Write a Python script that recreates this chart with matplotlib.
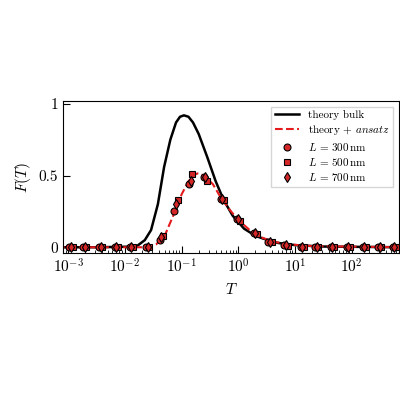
import matplotlib
matplotlib.use("Agg")
import matplotlib.pyplot as plt
import numpy as np

plt.rcParams.update({"font.family": "serif", "font.serif": ["cmr10", "DejaVu Serif"],
                     "mathtext.fontset": "cm", "axes.formatter.use_mathtext": True,
                     "font.size": 11, "axes.unicode_minus": False})

bulk_logT = [-3.2, -2.5, -1.8, -1.65, -1.54, -1.42, -1.31, -1.2, -1.1, -1.03, -0.96, -0.88, -0.8, -0.7, -0.55, -0.4,
             -0.26, -0.1, 0.1, 0.3, 0.44, 0.7, 1.0, 1.5, 2.9]
bulk_F = [0, 0, 0.005, 0.05, 0.12, 0.3, 0.56, 0.75, 0.87, 0.91, 0.92, 0.91, 0.87, 0.79, 0.63, 0.46,
          0.33, 0.22, 0.13, 0.08, 0.06, 0.03, 0.015, 0.005, 0]
ans_logT = [-3.2, -1.6, -1.45, -1.3, -1.15, -1.0, -0.88, -0.78, -0.72, -0.6, -0.45, -0.3, -0.15, 0, 0.2, 0.4, 0.6, 0.9, 1.3, 2.9]
ans_F = [0, 0, 0.02, 0.08, 0.22, 0.37, 0.46, 0.505, 0.515, 0.50, 0.44, 0.34, 0.26, 0.19, 0.12, 0.07, 0.04, 0.02, 0.008, 0]

base_logT = [-2.95, -2.71, -2.43, -2.15, -1.89, -1.60, -1.36, -1.10, -0.84, -0.58, -0.28, 0.0, 0.30, 0.56, 0.84, 1.13,
             1.38, 1.66, 1.94, 2.22, 2.49, 2.75]
F300 = [0, 0, 0, 0, 0, 0.003, 0.05, 0.25, 0.44, 0.49, 0.34, 0.20, 0.10, 0.04, 0.015, 0.005, 0, 0, 0, 0, 0, 0]
F500 = [0, 0, 0, 0, 0, 0.004, 0.08, 0.33, 0.51, 0.46, 0.33, 0.18, 0.09, 0.035, 0.012, 0.004, 0, 0, 0, 0, 0, 0]
F700 = [0, 0, 0, 0, 0, 0.004, 0.07, 0.30, 0.46, 0.49, 0.34, 0.20, 0.10, 0.04, 0.015, 0.005, 0, 0, 0, 0, 0, 0]
offsets = [-0.03, 0.03, 0.0]

fig = plt.figure(figsize=(4, 4), dpi=100)
ax = fig.add_axes([0.158, 0.3675, 0.839, 0.38])
ax.plot(10 ** np.array(bulk_logT), bulk_F, "k-", lw=1.8, label="theory bulk")
ax.plot(10 ** np.array(ans_logT), ans_F, "--", color="#e41a1c", lw=1.5, label=r"theory + $\mathit{ansatz}$")
for F, m, lab, off in zip([F300, F500, F700], ["o", "s", "d"],
                          [r"$L\,=\,300\,\mathrm{nm}$", r"$L\,=\,500\,\mathrm{nm}$", r"$L\,=\,700\,\mathrm{nm}$"], offsets):
    ax.plot(10 ** (np.array(base_logT) + off), F, m, ms=5, mfc="#d62728", mec="k", mew=0.8, ls="none", label=lab)
ax.set_xscale("log")
ax.set_xlim(10 ** -3.09, 10 ** 2.83)
ax.set_ylim(-0.04, 1.02)
ax.set_yticks([0, 0.5, 1])
ax.set_yticklabels(["0", "0.5", "1"])
ax.tick_params(which="both", direction="in")
ax.tick_params(which="major", length=5)
ax.set_xlabel(r"$T$")
ax.set_ylabel(r"$F(T)$")
ax.legend(loc="upper right", fontsize=8, frameon=True, fancybox=False, edgecolor="0.8",
          handlelength=2.2, borderpad=0.3, labelspacing=0.3)
fig.savefig("out.png", dpi=100)
